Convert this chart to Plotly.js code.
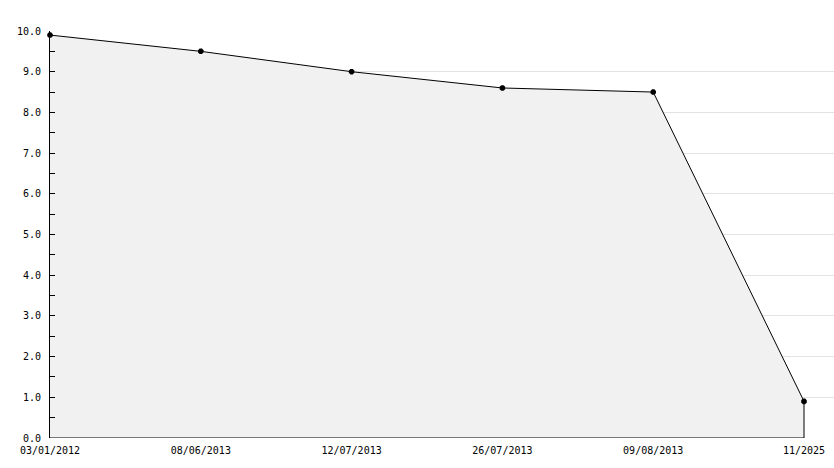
<!DOCTYPE html>
<html>
<head>
<meta charset="utf-8">
<script src="https://cdn.plot.ly/plotly-3.0.1.min.js"></script>
<style>html,body{margin:0;padding:0;background:#fff;}#chart{width:834px;height:468px;}</style>
</head>
<body>
<div id="chart"></div>
<script>
var categories = ["03/01/2012", "08/06/2013", "12/07/2013", "26/07/2013", "09/08/2013", "11/2025"];
var values = [9.9, 9.5, 9.0, 8.6, 8.5, 0.9];
var yTickValues = [0,1,2,3,4,5,6,7,8,9,10];
var yTickLabels = ["0.0","1.0","2.0","3.0","4.0","5.0","6.0","7.0","8.0","9.0","10.0"];

var idx = categories.map(function(_, i){ return i; });
var last = idx.length - 1;

var fillTrace = {
  x: idx, y: values, type: 'scatter', mode: 'lines',
  fill: 'tozeroy', fillcolor: '#f1f1f1',
  line: {color: 'rgba(0,0,0,0)', width: 0},
  hoverinfo: 'skip', showlegend: false
};
var outlineTrace = {
  x: idx.concat([last, 0]), y: values.concat([0, 0]),
  type: 'scatter', mode: 'lines',
  line: {color: '#000', width: 1},
  hoverinfo: 'skip', showlegend: false
};
var markerTrace = {
  x: idx, y: values, type: 'scatter', mode: 'markers',
  marker: {symbol: 'octagon', size: 6, color: '#000'},
  cliponaxis: false,
  showlegend: false
};

var font = {family: 'DejaVu Sans Mono, monospace', size: 10, color: '#000'};
var layout = {
  width: 834, height: 468,
  margin: {l: 50, r: 0, t: 31, b: 30},
  paper_bgcolor: '#fff', plot_bgcolor: '#fff',
  font: font,
  showlegend: false,
  xaxis: {
    range: [0, last * 784 / 754],
    tickvals: idx, ticktext: categories,
    showgrid: false, zeroline: false, showline: false,
    ticks: '', tickfont: font, ticklabelstandoff: 5,
    fixedrange: true
  },
  yaxis: {
    range: [0, 10],
    tickvals: yTickValues, ticktext: yTickLabels,
    showgrid: true, gridcolor: '#e3e3e3', gridwidth: 1,
    zeroline: false, showline: true, linecolor: '#000', linewidth: 1,
    ticks: 'inside', ticklen: 5, tickcolor: '#000', tickwidth: 1,
    minor: {dtick: 0.5, tick0: 0, ticks: 'inside', ticklen: 5, tickcolor: '#000', showgrid: false},
    tickfont: font, ticklabelstandoff: 6,
    fixedrange: true
  }
};
Plotly.newPlot('chart', [fillTrace, outlineTrace, markerTrace], layout, {displayModeBar: false, staticPlot: true});
</script>
</body>
</html>
